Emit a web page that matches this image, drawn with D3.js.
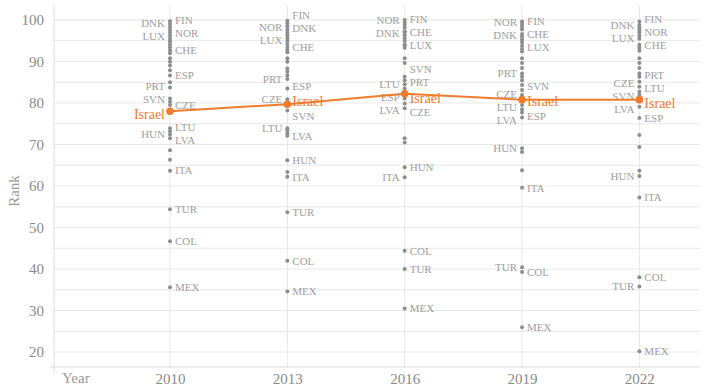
<!DOCTYPE html>
<html>
<head>
<meta charset="utf-8">
<script src="https://cdn.jsdelivr.net/npm/d3@7"></script>
<style>
  html, body { margin: 0; padding: 0; background: #fff; }
  svg { display: block; }
</style>
</head>
<body>
<svg id="chart" width="704" height="388"></svg>
<script>
// Survey years shown on the x axis
const years = [2010, 2013, 2016, 2019, 2022];

// Israel's rank in each survey year
const israelRank = [78.0, 79.7, 82.2, 80.8, 80.8];

// Countries that carry a label, with their rank per year (same order)
const labeledCountries = ["FIN", "DNK", "NOR", "LUX", "CHE", "ESP", "PRT", "SVN", "CZE", "LTU", "HUN", "LVA", "ITA", "TUR", "COL", "MEX"];
const rank2010 = [99.7, 99.0, 96.9, 96.2, 92.7, 86.6, 83.7, 80.3, 79.5, 73.9, 72.4, 71.5, 63.7, 54.4, 46.7, 35.6];
const rank2013 = [99.8, 99.2, 97.0, 96.3, 93.5, 83.5, 85.8, 78.2, 80.9, 73.9, 66.2, 72.1, 62.2, 53.7, 42.0, 34.6];
const rank2016 = [100.0, 97.3, 99.4, 94.0, 97.0, 81.1, 83.5, 86.3, 79.9, 84.5, 64.5, 78.7, 62.1, 40.0, 44.4, 30.5];
const rank2019 = [99.6, 96.6, 99.0, 93.8, 96.0, 77.7, 87.1, 83.1, 81.9, 78.5, 69.1, 76.5, 59.6, 40.4, 39.3, 26.0];
const rank2022 = [99.6, 98.8, 97.5, 95.5, 94.0, 76.4, 86.3, 81.9, 83.9, 82.7, 62.4, 79.1, 57.2, 35.8, 38.0, 20.2];

// Remaining OECD countries, drawn without labels
const others2010 = [98.3, 97.6, 95.5, 94.8, 94.1, 93.4, 92.0, 90.8, 89.9, 89.0, 87.9, 85.0, 81.1, 73.2, 68.6, 66.3];
const others2013 = [98.5, 97.7, 95.6, 94.9, 94.2, 92.8, 92.2, 90.8, 89.9, 88.3, 87.5, 86.6, 73.4, 72.7, 63.4];
const others2016 = [98.8, 98.1, 96.3, 95.6, 94.9, 93.9, 93.3, 90.8, 89.6, 85.5, 71.5, 70.5];
const others2019 = [98.4, 97.7, 95.3, 94.6, 93.0, 92.4, 90.8, 89.6, 88.4, 86.3, 85.5, 84.3, 79.5, 68.2, 63.8];
const others2022 = [98.1, 97.0, 96.2, 93.3, 92.6, 90.8, 89.6, 88.4, 87.1, 85.1, 72.3, 69.4, 63.7];

// Which labels sit to the left of their dot, per year
const leftLabels2010 = ["DNK", "LUX", "PRT", "SVN", "Israel", "HUN"];
const leftLabels2013 = ["NOR", "LUX", "PRT", "CZE", "LTU"];
const leftLabels2016 = ["NOR", "DNK", "LTU", "ESP", "LVA", "ITA"];
const leftLabels2019 = ["NOR", "DNK", "PRT", "CZE", "LTU", "LVA", "HUN", "TUR"];
const leftLabels2022 = ["DNK", "LUX", "CZE", "SVN", "LVA", "HUN", "TUR"];

const yTicks = [20, 30, 40, 50, 60, 70, 80, 90, 100];

const labeledByYear = [rank2010, rank2013, rank2016, rank2019, rank2022];
const othersByYear = [others2010, others2013, others2016, others2019, others2022];
const leftByYear = [leftLabels2010, leftLabels2013, leftLabels2016, leftLabels2019, leftLabels2022];

const ORANGE = "#ef7b2c";
const DOT = "#8d8d8d";
const LABEL = "#9d9d9d";
const GRID = "#e7e7e7";
const FONT = "'Liberation Serif', 'Times New Roman', serif";

const svg = d3.select("#chart");
const plotLeft = 54, plotRight = 700, plotTop = 5, plotBottom = 367;

const x = d3.scaleLinear().domain([2007.034, 2023.55]).range([plotLeft, plotRight]);
const y = d3.scaleLinear().domain([16.4, 103.6]).range([plotBottom, plotTop]);

// Horizontal grid: every 5 ranks
const gridVals = d3.range(20, 101, 5);
svg.append("g").selectAll("line").data(gridVals).join("line")
  .attr("x1", plotLeft).attr("x2", plotRight)
  .attr("y1", d => y(d)).attr("y2", d => y(d))
  .attr("stroke", GRID).attr("stroke-width", 1);

// Vertical grid at each year
svg.append("g").selectAll("line").data(years).join("line")
  .attr("x1", d => x(d)).attr("x2", d => x(d))
  .attr("y1", plotTop).attr("y2", plotBottom)
  .attr("stroke", GRID).attr("stroke-width", 1);

// Axis frame lines
svg.append("line").attr("x1", plotLeft).attr("x2", plotLeft).attr("y1", plotTop).attr("y2", plotBottom + 6)
  .attr("stroke", "#dcdcdc");
svg.append("line").attr("x1", plotLeft - 4).attr("x2", plotRight).attr("y1", plotBottom).attr("y2", plotBottom)
  .attr("stroke", "#dcdcdc");

// Y axis tick labels
const yAxis = d3.axisLeft(y).tickValues(yTicks).tickSize(0).tickPadding(10);
const gy = svg.append("g").attr("transform", `translate(${plotLeft},0)`).call(yAxis);
gy.select(".domain").remove();
gy.selectAll("text").attr("fill", "#8a8a8a").style("font-family", FONT).style("font-size", "15px");

// X axis tick labels
const xAxis = d3.axisBottom(x).tickValues(years).tickFormat(d3.format("d")).tickSize(0).tickPadding(6);
const gx = svg.append("g").attr("transform", `translate(0,${plotBottom})`).call(xAxis);
gx.select(".domain").remove();
gx.selectAll("text").attr("fill", "#8a8a8a").style("font-family", FONT).style("font-size", "15px");

// Axis titles
svg.append("text").attr("x", 62).attr("y", 383).text("Year")
  .attr("fill", "#999").style("font-family", FONT).style("font-size", "15px");
svg.append("text").attr("transform", `translate(19,191) rotate(-90)`)
  .attr("text-anchor", "middle").text("Rank")
  .attr("fill", "#999").style("font-family", FONT).style("font-size", "15px");

// Unlabeled dots
years.forEach((yr, i) => {
  svg.append("g").selectAll("circle").data(othersByYear[i]).join("circle")
    .attr("cx", x(yr)).attr("cy", d => y(d)).attr("r", 2).attr("fill", DOT);
});

// Labeled dots
years.forEach((yr, i) => {
  svg.append("g").selectAll("circle").data(labeledByYear[i]).join("circle")
    .attr("cx", x(yr)).attr("cy", d => y(d)).attr("r", 2).attr("fill", DOT);
});

// Simple label repel: separate labels on one side of a column
function spread(items) {
  items.sort((a, b) => a.target - b.target);
  items.forEach(d => d.pos = d.target);
  for (let iter = 0; iter < 300; iter++) {
    let moved = false;
    for (let k = 1; k < items.length; k++) {
      const a = items[k - 1], b = items[k];
      const need = (a.gap + b.gap) / 2;
      const overlap = need - (b.pos - a.pos);
      if (overlap > 0.01) {
        a.pos -= overlap / 2;
        b.pos += overlap / 2;
        moved = true;
      }
    }
    items.forEach(d => { if (d.pos < plotTop + 6) d.pos = plotTop + 6; });
    if (!moved) break;
  }
  return items;
}

years.forEach((yr, i) => {
  const lefts = leftByYear[i];
  const items = labeledCountries.map((c, j) => ({
    name: c, target: y(labeledByYear[i][j]), israel: false, gap: 13
  }));
  items.push({ name: "Israel", target: y(israelRank[i]), israel: true, gap: 17 });
  const leftItems = spread(items.filter(d => lefts.includes(d.name)));
  const rightItems = spread(items.filter(d => !lefts.includes(d.name)));
  const cx = x(yr);
  [[leftItems, -1], [rightItems, 1]].forEach(([arr, side]) => {
    svg.append("g").selectAll("text").data(arr).join("text")
      .attr("x", cx + side * 5)
      .attr("y", d => d.pos)
      .attr("dy", "0.35em")
      .attr("text-anchor", side < 0 ? "end" : "start")
      .attr("fill", d => d.israel ? ORANGE : LABEL)
      .style("font-family", FONT)
      .style("font-size", d => d.israel ? "14px" : "11px")
      .text(d => d.name);
  });
});

// Israel's trajectory
const line = d3.line().x((d, i) => x(years[i])).y(d => y(d));
svg.append("path").datum(israelRank).attr("d", line)
  .attr("fill", "none").attr("stroke", ORANGE).attr("stroke-width", 2);
svg.append("g").selectAll("circle").data(israelRank).join("circle")
  .attr("cx", (d, i) => x(years[i])).attr("cy", d => y(d)).attr("r", 3.8).attr("fill", ORANGE);
</script>
</body>
</html>
